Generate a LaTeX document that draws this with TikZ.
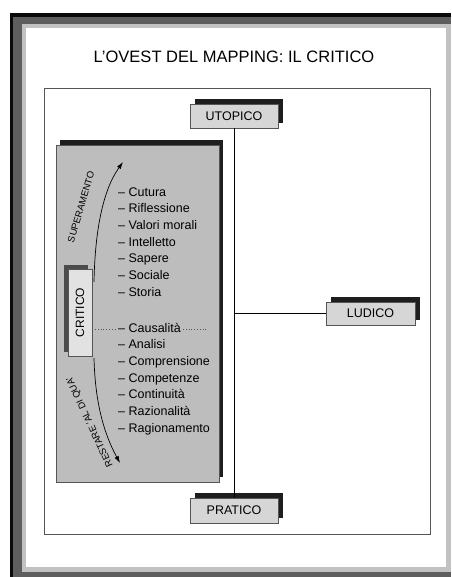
\documentclass[tikz,border=0pt]{standalone}
\usepackage{fontspec}
\setmainfont{Liberation Sans}
\usetikzlibrary{arrows.meta,shadows}
\definecolor{frameblack}{HTML}{0A0A0A}
\definecolor{framedark}{HTML}{5E5E5E}
\definecolor{framelight}{HTML}{C2C2C2}
\definecolor{panelgray}{HTML}{BDBDBD}
\definecolor{boxgray}{HTML}{D6D6D6}
\definecolor{shadowc}{HTML}{1E1E1E}
\definecolor{linegray}{HTML}{555555}
\begin{document}
\begin{tikzpicture}[x=1pt,y=-1pt,
  axisbox/.style={draw=linegray, fill=boxgray, inner sep=0, minimum width=88pt, minimum height=24pt,
    font=\fontsize{12.5}{14}\selectfont,
    copy shadow={shadow xshift=5pt, shadow yshift=5pt, fill=shadowc, draw=none}},
  panelbox/.style={draw=linegray, fill=panelgray, inner sep=0, minimum width=163pt, minimum height=337pt,
    copy shadow={shadow xshift=4pt, shadow yshift=5pt, fill=shadowc, draw=none}},
  critbox/.style={draw=linegray, fill=boxgray!70!white, inner sep=0, minimum width=24pt, minimum height=87pt,
    font=\fontsize{12}{14}\selectfont,
    copy shadow={shadow xshift=-4pt, shadow yshift=4pt, fill=shadowc!80!white, draw=none}},
  itemtext/.style={anchor=west, inner sep=0, font=\fontsize{12.5}{14}\selectfont, text height=9pt, text depth=2.5pt},
  curvelabel/.style={inner sep=0, font=\fontsize{9.5}{11}\selectfont},
  arr/.style={-{Latex[length=7pt,width=4.5pt]}, line width=0.7pt},
  axisline/.style={line width=0.8pt, black}]
\useasboundingbox (0,0) rectangle (451,577);
\clip (0,0) rectangle (451,577);
% outer frame
\fill[frameblack] (10,13) rectangle (451,577);
\fill[framedark] (13,17) rectangle (451,577);
\fill[framelight] (22,24) rectangle (451,572);
\fill[white] (26,28) rectangle (446,567);
% inner frame
\draw[linegray, line width=0.9pt] (44,88) rectangle (430,534);
% title
\node[font=\fontsize{16.5}{19}\selectfont, inner sep=0] (title) at (234,57) {L'OVEST DEL MAPPING: IL CRITICO};
% axis boxes
\node[axisbox] (u) at (234,116) {UTOPICO};
\node[axisbox, minimum height=25pt] (p) at (234,510.5) {PRATICO};
\node[axisbox, minimum width=89pt, minimum height=23pt] (l) at (370.5,313.5) {LUDICO};
\draw[axisline] (u.south) -- (p.north);
\coordinate (mid) at (u.south |- l.west);
\draw[axisline] (mid) -- (l.west);
% left panel
\node[panelbox] (panel) at (137.5,313.5) {};
\node[critbox] (crit) at (80,312.5) {\rotatebox{90}{CRITICO}};
% items
\foreach \t [count=\i] in {Cutura, Riflessione, Valori morali, Intelletto, Sapere, Sociale, Storia}
  \node[itemtext] (i\i) at (118,{193+16.67*(\i-1)}) {-- \t};
\foreach \t [count=\i from 8] in {Causalità, Analisi, Comprensione, Competenze, Continuità, Razionalità, Ragionamento}
  \node[itemtext] (i\i) at (118,{329+16.67*(\i-8)}) {-- \t};
% dotted line
\coordinate (dotend) at (207,329);
\draw[dotted, line width=0.8pt, linegray] (crit.east |- i8.west) -- ([xshift=-2pt]i8.west);
\draw[dotted, line width=0.8pt, linegray] ([xshift=2pt]i8.east) -- (dotend);
% curved arrows
\coordinate (supS) at (94,282);
\coordinate (supE) at (123,162);
\draw[arr] (supS) .. controls (95,230) and (103,190) .. (supE);
\coordinate (resS) at (94,358);
\coordinate (resE) at (120,463);
\draw[arr] (resS) .. controls (95,400) and (103,432) .. (resE);
\node[curvelabel, rotate=73.5] (suplab) at (81,207) {SUPERAMENTO};
\node[curvelabel, rotate=115] (reslab) at (90,422) {RESTARE 'AL DI QUA'};
\end{tikzpicture}
\end{document}
